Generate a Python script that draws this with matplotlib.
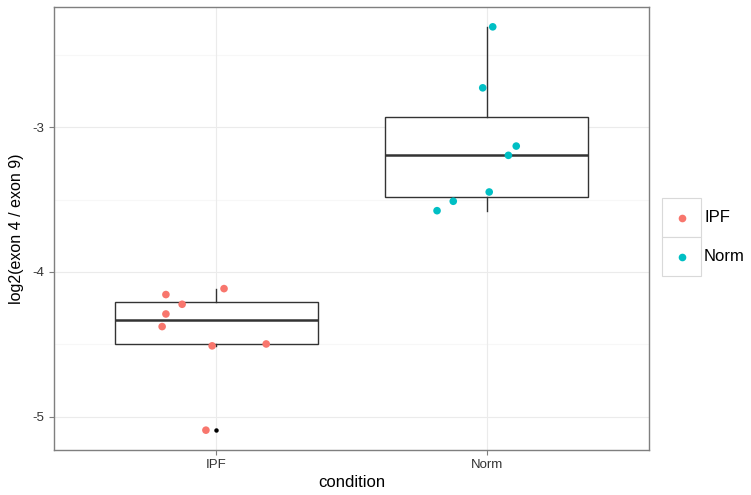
import matplotlib
matplotlib.use("Agg")
import matplotlib.pyplot as plt
from matplotlib.patches import Rectangle
from matplotlib.lines import Line2D
import numpy as np

plt.rcParams['font.family'] = ['Liberation Sans', 'DejaVu Sans']

categories = ["IPF", "Norm"]
colors = ["#F8766D", "#00BFC4"]

ipf_values = [-4.115, -4.156, -4.223, -4.290, -4.377, -4.510, -4.497, -5.092]
ipf_jitter = [0.029, -0.186, -0.126, -0.186, -0.200, -0.015, 0.185, -0.038]
norm_values = [-2.308, -2.729, -3.131, -3.195, -3.448, -3.512, -3.577]
norm_jitter = [0.023, -0.014, 0.110, 0.081, 0.010, -0.123, -0.183]

values = [ipf_values, norm_values]
jitters = [ipf_jitter, norm_jitter]

W, H = 751, 495
fig = plt.figure(figsize=(W / 100, H / 100), dpi=100)
ax = fig.add_axes([54 / W, 1 - 450.3 / H, (648.7 - 54) / W, (450.3 - 6.7) / H])

ax.set_xlim(0.4, 2.6)
ax.set_ylim(-5.231, -2.169)

# grid
for y in [-5, -4, -3]:
    ax.axhline(y, color="#ebebeb", lw=0.8, zorder=0)
for y in [-4.5, -3.5, -2.5]:
    ax.axhline(y, color="#f7f7f7", lw=0.8, zorder=0)
for x in [1, 2]:
    ax.axvline(x, color="#ebebeb", lw=0.8, zorder=0)

bp = ax.boxplot(values, positions=[1, 2], widths=0.75, showcaps=False,
                patch_artist=True, whis=1.5,
                boxprops=dict(facecolor="white", edgecolor="#333333", lw=1.0),
                whiskerprops=dict(color="#333333", lw=1.0),
                medianprops=dict(color="#333333", lw=1.8),
                flierprops=dict(marker="o", markerfacecolor="black", markeredgecolor="black",
                                markersize=2.2),
                zorder=2)

for i, (vals, jit) in enumerate(zip(values, jitters)):
    xs = np.array(jit) + (i + 1)
    ax.scatter(xs, vals, s=30, color=colors[i], edgecolors="none", zorder=3)

ax.set_xticks([1, 2])
ax.set_xticklabels(categories)
ax.set_yticks([-5, -4, -3])
ax.set_yticklabels(["-5", "-4", "-3"])
ax.tick_params(axis="both", colors="#7f7f7f", labelcolor="#333333", labelsize=9.5,
               length=3.5, width=0.8)
ax.tick_params(axis="x", pad=2.5)
for s in ax.spines.values():
    s.set_color("#7f7f7f")
    s.set_linewidth(1.0)

ax.set_xlabel("condition", fontsize=12, labelpad=3)
ax.set_ylabel("log2(exon 4 / exon 9)", fontsize=11.5, labelpad=6)

# legend (drawn manually in figure pixels)
def fx(px):
    return px / W

def fy(py):
    return 1 - py / H

key_left, key_w = 662, 39
tops = [198, 237]
for i, cat in enumerate(categories):
    t = tops[i]
    fig.add_artist(Rectangle((fx(key_left), fy(t + key_w)), key_w / W, key_w / H,
                             facecolor="white", edgecolor="#d9d9d9", lw=0.8,
                             transform=fig.transFigure))
    fig.add_artist(Line2D([fx(key_left + key_w / 2 + 0.5)], [fy(t + key_w / 2)],
                          marker="o", markersize=5.5, color=colors[i], markeredgewidth=0,
                          linestyle="none", transform=fig.transFigure))
    fig.text(fx(704), fy(t + key_w / 2), cat, fontsize=12, va="center", ha="left",
             color="black")

fig.savefig("out.png", dpi=100)
